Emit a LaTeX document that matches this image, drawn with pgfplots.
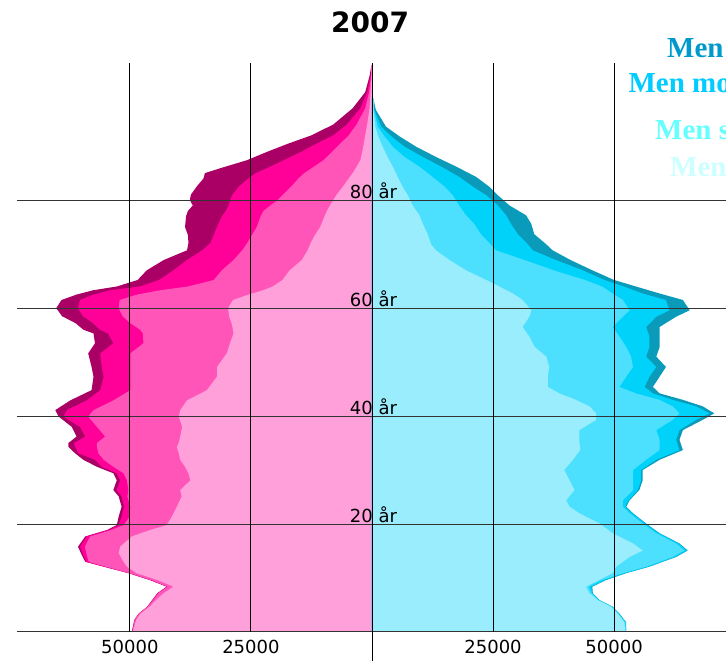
\documentclass[border=0pt]{standalone}
\usepackage{fontspec}
\setmainfont{DejaVu Sans}
\newfontfamily\legfont{Liberation Serif}
\usepackage{pgfplots}
\usepackage{pgfplotstable}
\pgfplotsset{compat=1.18}

\definecolor{wlight}{HTML}{FFA0DA}
\definecolor{wmid}{HTML}{FF55B9}
\definecolor{whot}{HTML}{FF0099}
\definecolor{wdark}{HTML}{AA0066}
\definecolor{mlight}{HTML}{9AEDFC}
\definecolor{mmid}{HTML}{4DE0FE}
\definecolor{mcyan}{HTML}{00D2FA}
\definecolor{mdark}{HTML}{0A9BBB}
\definecolor{leg1}{HTML}{0099CC}
\definecolor{leg2}{HTML}{00CCFF}
\definecolor{leg3}{HTML}{66FFFF}
\definecolor{leg4}{HTML}{CCFFFF}

% women: age, outer edges of the four stacked layers (thousands)
\pgfplotstableread{
age D H M L
0 0 0 0 0
0 49.6 49.5 49.5 49.4
2.2 49.1 49.0 49.0 48.7
3.4 48.2 48.1 48.1 47.8
4.7 46.4 46.3 46.3 45.9
5.9 45.4 45.3 45.2 44.6
7.2 44.3 44.2 44.1 43.0
8.4 42.4 42.3 42.2 41.0
9.6 45.8 45.7 45.5 44.2
10.9 50.3 50.2 50.0 48.6
12.1 55.4 55.3 55.0 50.6
13.0 59.2 59.0 58.5 51.3
14.6 60.1 59.8 59.0 52.3
15.8 60.7 60.3 59.3 52.0
17.7 59.2 58.9 58.2 49.6
18.9 54.7 54.4 53.8 45.8
19.8 52.7 52.3 51.3 42.4
21.4 52.3 51.7 50.0 41.3
23.2 51.7 51.2 49.9 40.3
25.1 52.3 51.7 50.5 39.3
26.3 53.4 52.7 50.3 39.6
28.1 52.7 52.0 50.6 37.5
29.4 53.4 52.7 51.3 37.9
30.6 56.8 55.8 53.4 38.6
31.9 59.6 57.2 55.4 39.6
33.1 61.3 60.6 56.5 39.9
34.3 62.7 61.3 56.8 40.3
35.0 62.7 61.5 56.8 39.9
36.2 61.0 59.2 55.1 39.6
38.0 62.0 60.3 56.8 39.2
39.9 64.7 63.7 58.6 39.9
41.1 65.4 63.0 57.5 39.6
42.9 62.3 58.9 53.4 38.2
44.8 57.9 56.1 49.9 34.1
47.3 57.5 55.4 49.9 32.0
49.1 57.9 55.8 49.9 32.0
51.6 58.6 56.1 49.9 30.0
53.5 57.2 53.4 47.2 29.3
55.3 57.5 54.5 47.3 28.6
56.0 59.6 56.2 47.9 28.7
57.2 61.2 57.6 49.9 29.0
58.5 64.0 59.7 51.5 29.5
60.0 65.2 60.7 52.3 29.7
61.5 64.1 60.3 52.1 28.7
62.5 61.0 57.5 48.5 25.5
63.3 57.6 54.1 43.8 22.5
64.0 52.7 47.9 38.0 20.5
65.2 48.4 44.0 32.7 18.5
67.0 46.5 41.0 31.0 17.0
68.9 43.0 38.2 28.6 14.5
70.7 38.2 35.1 26.8 13.3
72.0 37.9 33.4 25.8 12.7
73.5 38.0 32.7 24.8 11.8
75.0 38.6 32.0 23.8 10.7
77.0 38.4 31.0 23.0 9.8
78.0 38.0 30.2 22.4 9.3
79.0 37.0 29.6 21.0 8.7
80.0 37.6 29.3 19.5 8.0
81.0 37.4 28.8 18.4 7.3
82.5 36.2 27.5 16.7 6.0
84.0 34.8 25.5 15.2 4.8
85.0 34.5 24.0 14.0 4.0
86.0 31.0 21.5 12.3 3.3
87.4 25.8 18.2 10.0 2.4
89.0 21.5 14.5 8.2 2.0
90.5 17.2 11.4 6.5 1.7
92.0 12.5 8.0 4.8 1.4
94.0 8.0 5.2 3.2 1.0
97.0 4.0 2.4 1.4 0.5
100.0 1.4 1.0 0.6 0.3
103.0 0.5 0.3 0.2 0.1
105.0 0.1 0.1 0.1 0.05
105.0 0 0 0 0
}\women

% men: age, outer edges of the four stacked layers (thousands)
\pgfplotstableread{
age D C M L
0 0 0 0 0
0 52.5 52.5 52.4 52.3
1.8 52.5 52.4 52.3 52.1
3.4 51.1 51.0 50.9 50.7
4.7 49.7 49.6 49.5 49.3
5.9 47.0 46.9 46.8 46.6
7.2 45.6 45.5 45.3 44.9
8.4 45.5 45.3 44.7 44.2
9.6 48.3 48.1 47.4 46.8
10.9 52.5 52.3 51.8 49.7
12.1 57.3 57.1 56.6 50.4
13.9 62.8 62.6 62.1 53.2
15.1 65.2 65.0 64.5 55.9
16.4 63.5 63.3 62.8 53.9
18.3 59.4 59.2 58.7 49.7
20.1 56.6 56.4 55.9 47.0
22.0 53.9 53.7 53.2 42.8
23.2 52.5 52.3 51.8 40.8
24.4 53.2 53.0 51.8 40.1
26.3 55.2 54.9 53.9 41.8
28.1 55.9 55.6 53.9 40.8
30.0 55.9 55.6 53.9 39.7
31.9 59.4 58.7 56.6 41.5
33.7 64.2 63.5 59.4 43.0
35.6 63.5 62.8 59.4 42.8
37.4 64.2 63.5 58.7 42.8
39.3 68.3 66.9 62.1 46.3
40.5 70.7 69.7 63.5 46.3
41.8 68.3 66.9 62.1 44.9
43.0 64.2 62.1 59.4 42.1
44.2 59.4 58.0 54.5 38.7
45.4 58.0 56.3 51.1 36.3
47.3 59.4 57.3 52.5 36.3
49.1 60.7 58.7 53.9 36.6
51.0 58.7 56.6 53.5 36.0
52.8 59.4 57.3 52.5 33.6
54.7 59.4 57.3 51.1 32.5
56.5 59.4 56.6 49.7 31.1
58.4 62.8 58.7 51.8 32.5
59.6 65.6 61.4 53.2 32.9
61.5 64.2 60.7 51.8 31.1
62.7 59.4 55.9 49.7 29.1
64.0 54.5 52.0 47.5 26.3
65.2 50.0 48.0 44.0 23.6
67.0 45.5 43.5 37.5 19.4
68.9 41.0 38.0 31.5 16.0
70.7 37.3 33.2 25.6 13.2
71.8 36.0 32.2 24.5 12.2
73.7 33.5 30.1 22.5 11.5
75.6 32.9 28.7 21.1 10.5
77.2 31.8 27.7 19.4 9.8
79.0 28.4 26.0 18.0 8.4
80.9 26.0 23.6 16.7 7.4
82.5 24.2 20.8 15.0 6.3
84.3 21.5 18.0 12.5 5.3
86.2 17.4 14.3 9.8 4.3
88.0 13.2 10.5 6.7 3.2
89.9 9.1 6.7 4.3 2.2
91.8 5.7 4.0 2.6 1.3
93.6 2.9 1.9 1.2 0.7
96.7 0.8 0.5 0.4 0.3
98.8 0.3 0.3 0.3 0.3
99.0 0 0 0 0
}\men

\begin{document}
\begin{tikzpicture}[x=1pt,y=1pt]
\useasboundingbox (0,0) rectangle (726,661);
\begin{axis}[
  at={(17pt,29pt)}, anchor=south west,
  scale only axis, width=709pt, height=569pt,
  xmin=-73.3, xmax=73.1, ymin=0, ymax=105.4,
  axis line style={draw=none},
  major tick length=0pt,
  xtick={-50,-25,25,50},
  xticklabels={50000,25000,25000,50000},
  ytick=\empty,
  xticklabel style={font=\fontsize{18}{18}\selectfont, yshift=-5pt},
  clip=false,
]
\addplot[fill=wdark, draw=none] table[x expr=-\thisrow{D}, y=age] {\women};
\addplot[fill=whot, draw=none] table[x expr=-\thisrow{H}, y=age] {\women};
\addplot[fill=wmid, draw=none] table[x expr=-\thisrow{M}, y=age] {\women};
\addplot[fill=wlight, draw=none] table[x expr=-\thisrow{L}, y=age] {\women};
\addplot[fill=mdark, draw=none] table[x=D, y=age] {\men};
\addplot[fill=mcyan, draw=none] table[x=C, y=age] {\men};
\addplot[fill=mmid, draw=none] table[x=M, y=age] {\men};
\addplot[fill=mlight, draw=none] table[x=L, y=age] {\men};

\draw[black!80, line width=1pt] (axis cs:-73.3,0) -- (axis cs:73.1,0);
\draw[black!80, line width=1pt] (axis cs:-73.3,20) -- (axis cs:73.1,20);
\draw[black!80, line width=1pt] (axis cs:-73.3,40) -- (axis cs:73.1,40);
\draw[black!80, line width=1pt] (axis cs:-73.3,60) -- (axis cs:73.1,60);
\draw[black!80, line width=1pt] (axis cs:-73.3,80) -- (axis cs:73.1,80);
\draw[black, line width=0.9pt] (axis cs:-50,0) -- (axis cs:-50,105.4);
\draw[black, line width=0.9pt] (axis cs:-25,0) -- (axis cs:-25,105.4);
\draw[black, line width=0.9pt] (axis cs:25,0) -- (axis cs:25,105.4);
\draw[black, line width=0.9pt] (axis cs:50,0) -- (axis cs:50,105.4);
\draw[black, line width=0.9pt] (axis cs:0,-5.4) -- (axis cs:0,105.4);

\node[anchor=base, inner sep=0pt, yshift=1.5pt, font=\fontsize{18}{18}\selectfont] at (axis cs:0.3,80) {80 år};
\node[anchor=base, inner sep=0pt, yshift=1.5pt, font=\fontsize{18}{18}\selectfont] at (axis cs:0.3,60) {60 år};
\node[anchor=base, inner sep=0pt, yshift=1.5pt, font=\fontsize{18}{18}\selectfont] at (axis cs:0.3,40) {40 år};
\node[anchor=base, inner sep=0pt, yshift=1.5pt, font=\fontsize{18}{18}\selectfont] at (axis cs:0.3,20) {20 år};
\end{axis}
\node[anchor=base, inner sep=0pt, font=\bfseries\fontsize{28}{28}\selectfont] at (370,628) {2007};
\node[anchor=base west, inner sep=0pt, text=leg1, font=\legfont\bfseries\fontsize{29}{29}\selectfont] at (667,603.3) {Men widowed};
\node[anchor=base west, inner sep=0pt, text=leg2, font=\legfont\bfseries\fontsize{29}{29}\selectfont] at (628.3,568.3) {Men moved};
\node[anchor=base west, inner sep=0pt, text=leg3, font=\legfont\bfseries\fontsize{29}{29}\selectfont] at (655,521.7) {Men single};
\node[anchor=base west, inner sep=0pt, text=leg4, font=\legfont\bfseries\fontsize{29}{29}\selectfont] at (670,484.3) {Men divorced};
\end{tikzpicture}
\end{document}
